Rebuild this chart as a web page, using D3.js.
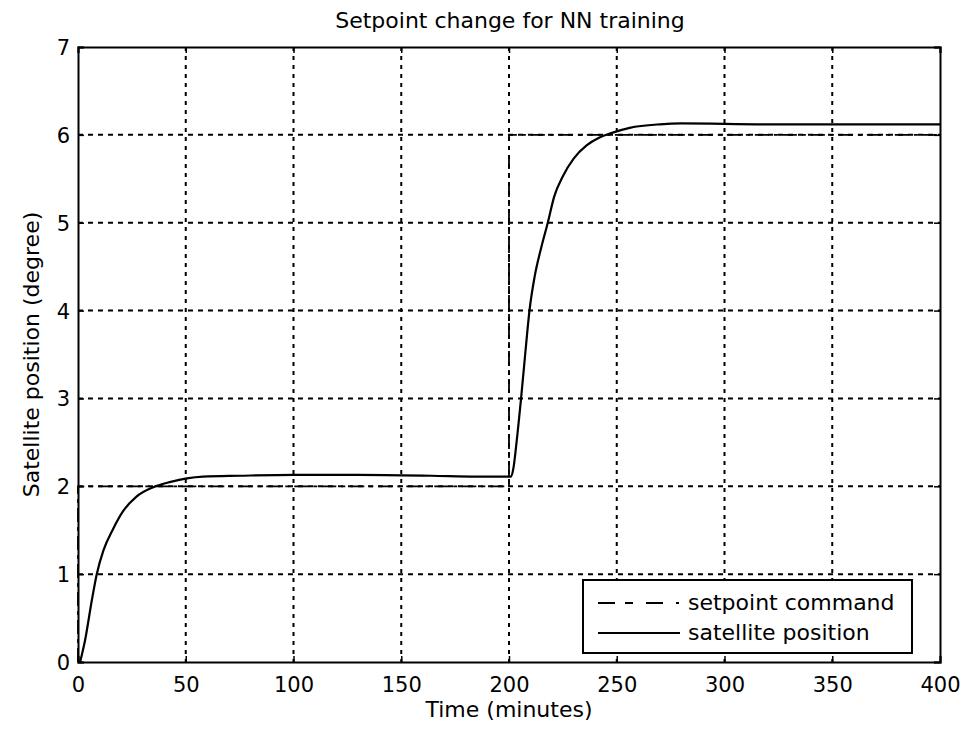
<!DOCTYPE html>
<html>
<head>
<meta charset="utf-8">
<script src="https://cdn.jsdelivr.net/npm/d3@7"></script>
<style>
  body { margin: 0; background: #fff; overflow: hidden; }
  svg { display: block; }
  text { font-family: "DejaVu Sans", "Liberation Sans", Arial, sans-serif; fill: #000; }
</style>
</head>
<body>
<svg id="chart"></svg>
<script>
//setpoint command (time, degree)
let setpointT = [0, 0, 200, 200, 400]
let setpointV = [0, 2, 2, 6, 6]

//satellite position (time, degree)
let posT = [1, 3.3, 6.4, 8.7, 11.8, 16.4, 21, 27, 35, 43, 50.5, 58, 75, 100, 130, 164, 185, 201,
  202, 203.5, 205.6, 207.5, 209.5, 212, 215, 218, 221, 225, 230, 236, 242, 247.4, 256, 270, 280, 320, 360, 400]
let posV = [0, 0.25, 0.7, 1.0, 1.27, 1.52, 1.72, 1.88, 1.99, 2.05, 2.09, 2.11, 2.12, 2.13, 2.13, 2.12, 2.11, 2.11,
  2.2, 2.5, 3.0, 3.5, 4.0, 4.4, 4.72, 5.0, 5.3, 5.53, 5.73, 5.88, 5.97, 6.02, 6.08, 6.12, 6.13, 6.12, 6.12, 6.12]

let xTicks = [0, 50, 100, 150, 200, 250, 300, 350, 400]
let yTicks = [0, 1, 2, 3, 4, 5, 6, 7]

let legendLabels = ['setpoint command', 'satellite position']

let outerWidth = 964
let outerHeight = 729
let margins = { top: 47, bottom: 67, left: 78, right: 24 }
let innerWidth = outerWidth - margins.left - margins.right
let innerHeight = outerHeight - margins.top - margins.bottom

let svg = d3.select('svg#chart')
  .attr('width', outerWidth)
  .attr('height', outerHeight)

let inner = svg.append('g')
  .attr('transform', 'translate(' + margins.left + ',' + margins.top + ')')

let xScale = d3.scaleLinear().domain([0, 400]).range([0, innerWidth])
let yScale = d3.scaleLinear().domain([0, 7]).range([innerHeight, 0])

//dotted grid
inner.append('g')
  .selectAll('line')
  .data(xTicks.slice(1, -1))
  .join('line')
  .attr('x1', d => xScale(d)).attr('x2', d => xScale(d))
  .attr('y1', 0).attr('y2', innerHeight)
  .attr('stroke', '#000').attr('stroke-width', 2)
  .attr('stroke-dasharray', '4,5')

inner.append('g')
  .selectAll('line')
  .data(yTicks.slice(1, -1))
  .join('line')
  .attr('x1', 0).attr('x2', innerWidth)
  .attr('y1', d => yScale(d)).attr('y2', d => yScale(d))
  .attr('stroke', '#000').attr('stroke-width', 2)
  .attr('stroke-dasharray', '5,5')

//axes with inward ticks
let xAxis = d3.axisBottom(xScale).tickValues(xTicks).tickSize(-6).tickPadding(15).tickFormat(d3.format('d'))
let yAxis = d3.axisLeft(yScale).tickValues(yTicks).tickSize(-6).tickPadding(8).tickFormat(d3.format('d'))

let gx = inner.append('g')
  .attr('transform', 'translate(0,' + innerHeight + ')')
  .call(xAxis)
let gy = inner.append('g').call(yAxis)

//top and right box edges with ticks, no labels
let gTop = inner.append('g')
  .call(d3.axisTop(xScale).tickValues(xTicks).tickSize(-6))
let gRight = inner.append('g')
  .attr('transform', 'translate(' + innerWidth + ',0)')
  .call(d3.axisRight(yScale).tickValues(yTicks).tickSize(-6))
gTop.selectAll('text').remove()
gRight.selectAll('text').remove()

inner.selectAll('.domain').attr('stroke', '#000').attr('stroke-width', 2)
inner.selectAll('.tick line').attr('stroke', '#000').attr('stroke-width', 1.5)
inner.selectAll('.tick text').style('font-family', '"DejaVu Sans", sans-serif').style('font-size', '21px')
gy.selectAll('text').attr('dy', '0.36em')

//data lines
let line = d3.line()
  .x(d => xScale(d[0]))
  .y(d => yScale(d[1]))

inner.append('path')
  .datum(setpointT.map((t, i) => [t, setpointV[i]]))
  .attr('d', line)
  .attr('fill', 'none')
  .attr('stroke', '#000')
  .attr('stroke-width', 1.8)
  .attr('stroke-dasharray', '14,5,4,5')

inner.append('path')
  .datum(posT.map((t, i) => [t, posV[i]]))
  .attr('d', line.curve(d3.curveMonotoneX))
  .attr('fill', 'none')
  .attr('stroke', '#000')
  .attr('stroke-width', 2.2)

//legend
let legend = svg.append('g').attr('transform', 'translate(583,580)')
legend.append('rect')
  .attr('width', 329).attr('height', 73)
  .attr('fill', '#fff').attr('stroke', '#000').attr('stroke-width', 2)

legend.selectAll('line.key')
  .data(legendLabels)
  .join('line')
  .attr('class', 'key')
  .attr('x1', 15).attr('x2', 97)
  .attr('y1', (d, i) => 23 + i * 30).attr('y2', (d, i) => 23 + i * 30)
  .attr('stroke', '#000').attr('stroke-width', 1.8)
  .attr('stroke-dasharray', (d, i) => i == 0 ? '17,10,8,13,17,13,3' : null)

legend.selectAll('text')
  .data(legendLabels)
  .join('text')
  .attr('x', 105)
  .attr('y', (d, i) => 22 + i * 30)
  .attr('dy', '0.36em')
  .style('font-size', '22px')
  .text(d => d)

//title and axis labels
svg.append('text')
  .attr('x', 510)
  .attr('y', 28)
  .attr('text-anchor', 'middle')
  .style('font-size', '22px')
  .text('Setpoint change for NN training')

svg.append('text')
  .attr('x', margins.left + innerWidth / 2)
  .attr('y', 717)
  .attr('text-anchor', 'middle')
  .style('font-size', '22px')
  .text('Time (minutes)')

svg.append('text')
  .attr('transform', 'translate(39,' + (margins.top + innerHeight / 2) + ') rotate(-90)')
  .attr('text-anchor', 'middle')
  .style('font-size', '22px')
  .text('Satellite position (degree)')
</script>
</body>
</html>
